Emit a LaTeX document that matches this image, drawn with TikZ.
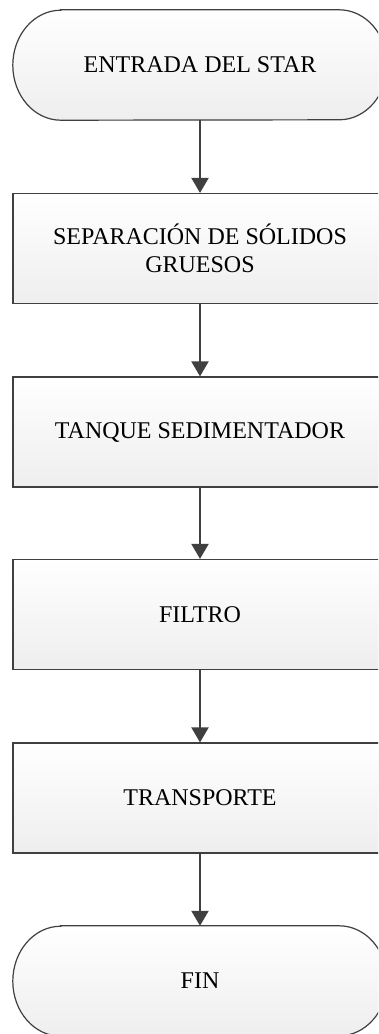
\documentclass[tikz,border=0pt]{standalone}
\usepackage{fontspec}
\setmainfont{Liberation Serif}
\usetikzlibrary{arrows.meta,calc}
\definecolor{edge}{HTML}{404040}
\definecolor{fillbot}{HTML}{EEEEEE}
\definecolor{shadowc}{HTML}{C8C8C8}
\tikzset{
  procbox/.style={rectangle, draw=edge, line width=1.2pt, top color=white, bottom color=fillbot,
    minimum width=374pt, minimum height=110pt, align=center, inner sep=0pt,
    font=\fontsize{24}{27.6}\selectfont},
  termnode/.style={rectangle, draw=none, minimum width=374pt, minimum height=110pt,
    align=center, inner sep=0pt, font=\fontsize{24}{27.6}\selectfont},
  termshape/.style={draw=edge, line width=1.2pt, top color=white, bottom color=fillbot},
  shadowshape/.style={fill=shadowc, draw=none},
  flow/.style={draw=edge, line width=2pt, -{Triangle[width=17pt,length=15pt]}}
}
\newcommand{\termpath}[1]{($( #1.north west)+(48,0)$) -- ($( #1.north east)+(-48,0)$)
  arc[start angle=90,end angle=-90,x radius=48,y radius=55]
  -- ($( #1.south west)+(48,0)$)
  arc[start angle=270,end angle=90,x radius=48,y radius=55] -- cycle}
\begin{document}
\begin{tikzpicture}[x=1pt,y=1pt]
\clip (0,0) rectangle (378,-1034);
\fill[white] (0,0) rectangle (378,-1034);
% positions
\coordinate (c1) at (200,-65);
\coordinate (c2) at (200,-248.5);
\coordinate (c3) at (200,-432);
\coordinate (c4) at (200,-614.5);
\coordinate (c5) at (200,-798);
\coordinate (c6) at (200,-981);
% shadows
\begin{scope}[shift={(3,-3)}]
  \node[termnode] (s1) at (c1) {};
  \path[shadowshape] \termpath{s1};
  \fill[shadowc] ($(c2)+(-187,-55)$) rectangle ($(c2)+(187,55)$);
  \fill[shadowc] ($(c3)+(-187,-55)$) rectangle ($(c3)+(187,55)$);
  \fill[shadowc] ($(c4)+(-187,-55)$) rectangle ($(c4)+(187,55)$);
  \fill[shadowc] ($(c5)+(-187,-55)$) rectangle ($(c5)+(187,55)$);
  \node[termnode] (s6) at (c6) {};
  \path[shadowshape] \termpath{s6};
\end{scope}
% start terminal
\node[termnode] (start) at (c1) {};
\path[termshape] \termpath{start};
\node[termnode] at (c1) {ENTRADA DEL STAR};
% process boxes
\node[procbox] (sep) at (c2) {SEPARACIÓN DE SÓLIDOS\\GRUESOS};
\node[procbox] (tanque) at (c3) {TANQUE SEDIMENTADOR};
\node[procbox] (filtro) at (c4) {FILTRO};
\node[procbox] (transp) at (c5) {TRANSPORTE};
% end terminal
\node[termnode] (fin) at (c6) {};
\path[termshape] \termpath{fin};
\node[termnode] at (c6) {FIN};
% connectors
\draw[flow] (start.south) -- (sep.north);
\draw[flow] (sep.south) -- (tanque.north);
\draw[flow] (tanque.south) -- (filtro.north);
\draw[flow] (filtro.south) -- (transp.north);
\draw[flow] (transp.south) -- (fin.north);
\end{tikzpicture}
\end{document}
